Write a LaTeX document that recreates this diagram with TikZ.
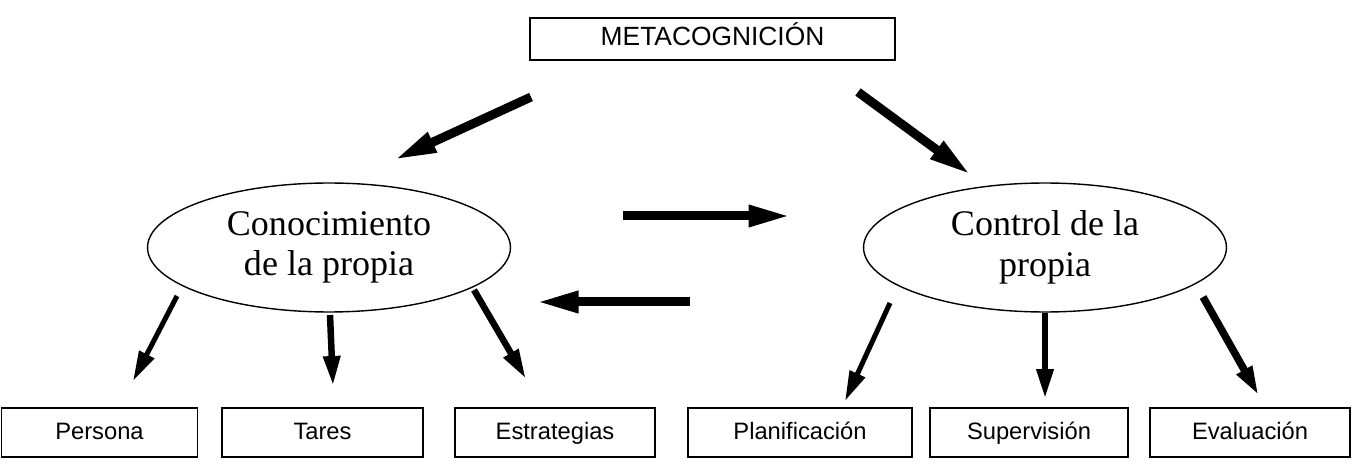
\documentclass[tikz,border=0pt]{standalone}
\usepackage{fontspec}
\setmainfont{Liberation Serif}
\setsansfont{Liberation Sans}
\usetikzlibrary{arrows.meta, shapes.geometric, positioning}

\begin{document}
\begin{tikzpicture}[
  x=0.02cm, y=-0.02cm,
  %% -- node styles --------------------------------------------------------
  topbox/.style  = {rectangle, draw, line width=1pt, inner sep=0pt,
                    minimum width=7.3cm, minimum height=0.84cm,
                    text height=0.72em, text depth=0pt,
                    font=\fontsize{15}{17}\selectfont\sffamily},
  ovalbox/.style = {ellipse, draw, line width=0.8pt, inner sep=0pt,
                    minimum width=7.26cm, minimum height=2.58cm,
                    align=center,
                    font=\fontsize{20.5}{23}\selectfont\rmfamily},
  leafbox/.style = {rectangle, draw, line width=1pt, inner sep=0pt,
                    minimum height=0.98cm,
                    text height=0.76em, text depth=0pt,
                    font=\fontsize{13.5}{15}\selectfont\sffamily},
  %% -- arrow styles -------------------------------------------------------
  bigarr/.style  = {-{Triangle[length=0.85cm, width=0.4cm]},
                    line width=0.18cm},
  downarr/.style = {-{Triangle[length=0.6cm, width=0.32cm]},
                    line width=0.13cm},
]
\useasboundingbox (0,0) rectangle (1361,465);

%% top
\node[topbox] (meta) at (712.5,39) {METACOGNICIÓN};

%% the two ellipses
\node[ovalbox] (conoc)   at (329,247.5)  {Conocimiento\\de la propia};
\node[ovalbox] (control) at (1045,247.5) {Control de la\\propia};

%% bottom row
\node[leafbox, minimum width=3.92cm] (persona) at (99.5,432.5)  {Persona};
\node[leafbox, minimum width=4.02cm] (tares)   at (322.5,432.5) {Tares};
\node[leafbox, minimum width=4.0cm]  (estrat)  at (555,432.5)   {Estrategias};
\node[leafbox, minimum width=4.48cm] (planif)  at (800,432.5)   {Planificación};
\node[leafbox, minimum width=3.96cm] (superv)  at (1029,432.5)  {Supervisión};
\node[leafbox, minimum width=4.0cm]  (evalua)  at (1250,432.5)  {Evaluación};

%% arrow end points (the arrows float between the shapes)
\coordinate (mL1) at (531,97);   \coordinate (mL2) at (394,160);
\coordinate (mR1) at (858,92);   \coordinate (mR2) at (971,175);
\coordinate (cR1) at (623,216);  \coordinate (cR2) at (791,216);
\coordinate (cL1) at (690,302);  \coordinate (cL2) at (536,302);
\coordinate (p1)  at (177,296);  \coordinate (p2)  at (133,381);
\coordinate (t1)  at (330,315);  \coordinate (t2)  at (333,386);
\coordinate (e1)  at (474,290);  \coordinate (e2)  at (526,379);
\coordinate (pl1) at (890,303);  \coordinate (pl2) at (845,401);
\coordinate (s1)  at (1045,313); \coordinate (s2)  at (1045,399);
\coordinate (ev1) at (1203,297); \coordinate (ev2) at (1259,396);

%% arrows
\draw[bigarr] (mL1) -- (mL2);
\draw[bigarr] (mR1) -- (mR2);
\draw[bigarr] (cR1) -- (cR2);
\draw[bigarr] (cL1) -- (cL2);

\draw[downarr, line width=0.1cm] (p1) -- (p2);
\draw[downarr] (t1)  -- (t2);
\draw[downarr] (e1)  -- (e2);
\draw[downarr, line width=0.1cm] (pl1) -- (pl2);
\draw[downarr] (s1)  -- (s2);
\draw[downarr, line width=0.15cm] (ev1) -- (ev2);

\end{tikzpicture}
\end{document}
